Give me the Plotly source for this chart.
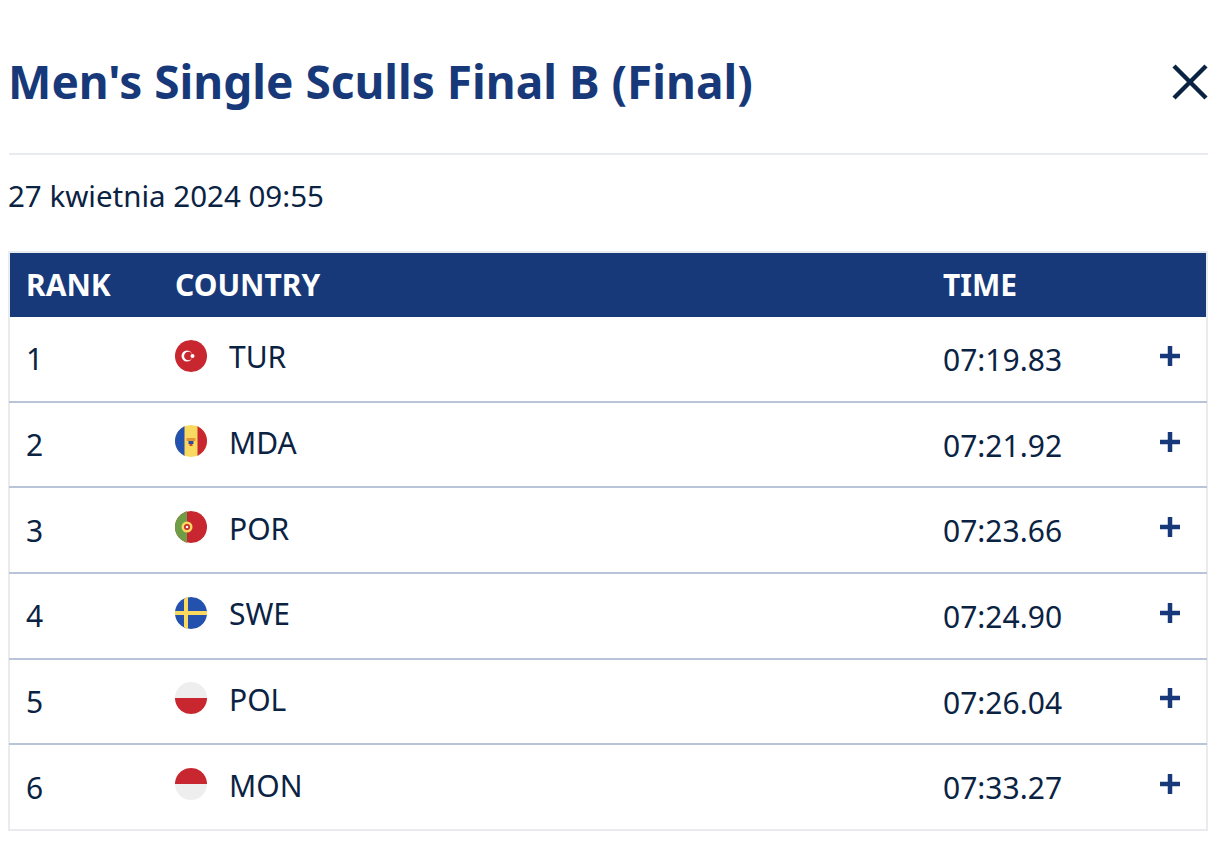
import numpy as np
import plotly.graph_objects as go

title = "Men's Single Sculls Final B (Final)"
date_text = "27 kwietnia 2024 09:55"
headers = ["RANK", "COUNTRY", "TIME"]
ranks = ["1", "2", "3", "4", "5", "6"]
countries = ["TUR", "MDA", "POR", "SWE", "POL", "MON"]
times = ["07:19.83", "07:21.92", "07:23.66", "07:24.90", "07:26.04", "07:33.27"]

NAVY = "#17397a"
INK = "#0b2343"
RED = "#c8272f"
GREY = "#eeeeee"
YELLOW = "#f9d95f"
BLUE = "#2352ae"
GREEN = "#6f9d45"
FONT = "Noto Sans"

# row geometry, in page pixels
row_tops = [317, 402, 487, 573, 659, 744, 830]
flag_y = [356, 441, 527, 613, 698, 784]
name_y = [357.5, 443.5, 529, 614.5, 700.5, 786]
rank_y = [359.5, 445.5, 531, 616.5, 702.5, 788]
time_y = [360, 446, 531.5, 617, 703, 788.5]
plus_y = [356, 442, 527, 613, 698, 784]
FLAG_X = 191
FLAG_R = 16

fig = go.Figure()
shapes = []
notes = []


def text(x, y, s, size, color=INK, bold=False):
    notes.append(dict(x=x - 3, y=y - 1, text="<b>%s</b>" % s if bold else s, showarrow=False,
                      xanchor="left", yanchor="middle", align="left",
                      font=dict(family=FONT, size=size, color=color)))


def line(x0, y0, x1, y1, color, width):
    shapes.append(dict(type="line", x0=x0, y0=y0, x1=x1, y1=y1,
                       line=dict(color=color, width=width)))


def rect(x0, y0, x1, y1, color):
    shapes.append(dict(type="rect", x0=x0, y0=y0, x1=x1, y1=y1,
                       fillcolor=color, line=dict(width=0)))


def patch(cy, color, x0=-99, x1=99, y0=-99, y1=99):
    # part of the flag disc inside a box, box given relative to the centre
    y0 = max(y0, -FLAG_R)
    y1 = min(y1, FLAG_R)
    ys = np.linspace(y0, y1, 30)
    half = np.sqrt(np.maximum(FLAG_R ** 2 - ys ** 2, 0))
    left = np.clip(-half, x0, x1)
    right = np.clip(half, x0, x1)
    pts = list(zip(FLAG_X + left, cy + ys)) + list(zip(FLAG_X + right[::-1], cy + ys[::-1]))
    path = "M" + "L".join("%.2f,%.2f" % p for p in pts) + "Z"
    shapes.append(dict(type="path", path=path, fillcolor=color, line=dict(width=0)))


def dot(cx, cy, r, color):
    shapes.append(dict(type="circle", x0=cx - r, y0=cy - r, x1=cx + r, y1=cy + r,
                       fillcolor=color, line=dict(width=0)))


def draw_flag(code, cy):
    if code == "TUR":
        patch(cy, RED)
        dot(FLAG_X - 4, cy, 5.5, "#ffffff")
        dot(FLAG_X - 2.6, cy, 4.3, RED)
        dot(FLAG_X + 1.5, cy, 2, "#ffffff")
    elif code == "MDA":
        patch(cy, YELLOW)
        patch(cy, BLUE, x1=-6.5)
        patch(cy, RED, x0=6.5)
        rect(FLAG_X - 4.5, cy - 3, FLAG_X + 4.5, cy, "#e8953a")
        rect(FLAG_X - 2.5, cy, FLAG_X + 2.5, cy + 3, "#2d4a9e")
        rect(FLAG_X - 1.5, cy + 3, FLAG_X + 1.5, cy + 5, "#d0453a")
    elif code == "POR":
        patch(cy, RED)
        patch(cy, GREEN, x1=-4)
        dot(FLAG_X - 4, cy, 5.5, YELLOW)
        dot(FLAG_X - 4, cy, 3, RED)
        dot(FLAG_X - 4, cy, 1.3, "#ffffff")
    elif code == "SWE":
        patch(cy, BLUE)
        patch(cy, YELLOW, x0=-7, x1=-3)
        patch(cy, YELLOW, y0=-2, y1=2)
    elif code == "POL":
        patch(cy, GREY, y1=0)
        patch(cy, RED, y0=0)
    elif code == "MON":
        patch(cy, RED, y1=0)
        patch(cy, GREY, y0=0)


# heading
text(9, 82, title, 46, NAVY, True)
line(1174, 66, 1206, 98, INK, 4.5)
line(1206, 66, 1174, 98, INK, 4.5)
line(9, 154, 1208, 154, "#e8ebf0", 2)
text(9, 196, date_text, 29.5)

# table frame and header band
shapes.append(dict(type="rect", x0=9, y0=252, x1=1207, y1=830,
                   line=dict(color="#e9ebee", width=2), fillcolor="rgba(0,0,0,0)"))
rect(10, 253, 1206, 317, NAVY)
for label, x in zip(headers, [27, 176, 944]):
    text(x, 285.5, label, 30, "#ffffff", True)

for i, code in enumerate(countries):
    text(27, rank_y[i], ranks[i], 30)
    draw_flag(code, flag_y[i])
    text(229.5, name_y[i], code, 30)
    text(943.5, time_y[i], times[i], 30)
    line(1160, plus_y[i], 1180, plus_y[i], NAVY, 4.5)
    line(1170, plus_y[i] - 10, 1170, plus_y[i] + 10, NAVY, 4.5)
    if i < len(countries) - 1:
        line(9, row_tops[i + 1], 1207, row_tops[i + 1], "#b9c4d9", 2)

fig.update_layout(
    width=1230, height=852,
    margin=dict(l=0, r=0, t=0, b=0),
    paper_bgcolor="#ffffff", plot_bgcolor="#ffffff",
    xaxis=dict(range=[0, 1230], visible=False, fixedrange=True),
    yaxis=dict(range=[852, 0], visible=False, fixedrange=True),
    shapes=shapes, annotations=notes, showlegend=False,
)
fig.write_html("out.html", config={"displayModeBar": False},
               post_script="document.body.style.margin='0';")
